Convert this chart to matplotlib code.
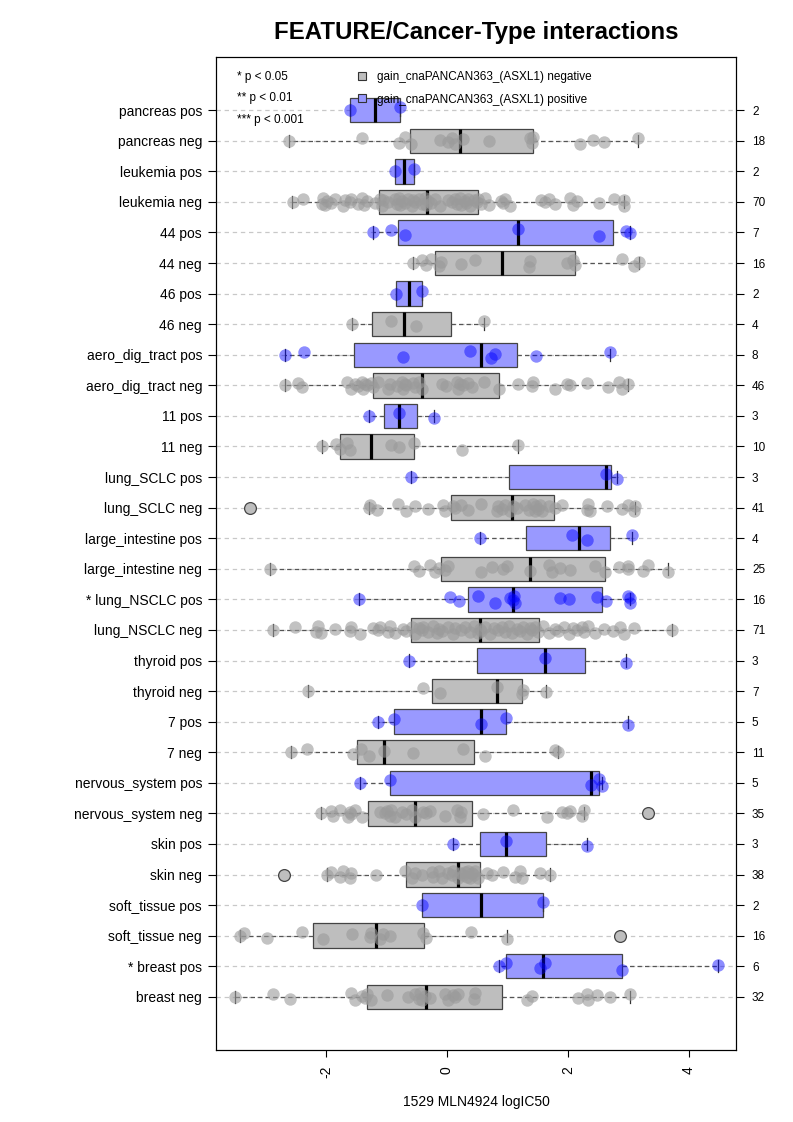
import matplotlib
matplotlib.use("Agg")
import matplotlib.pyplot as plt
from matplotlib.lines import Line2D

plt.rcParams['font.family'] = ['Liberation Sans', 'DejaVu Sans']
plt.rcParams['axes.unicode_minus'] = False

# row labels, top of the plot first
labels = ["pancreas pos", "pancreas neg", "leukemia pos", "leukemia neg",
          "44 pos", "44 neg", "46 pos", "46 neg",
          "aero_dig_tract pos", "aero_dig_tract neg", "11 pos", "11 neg",
          "lung_SCLC pos", "lung_SCLC neg", "large_intestine pos", "large_intestine neg",
          "* lung_NSCLC pos", "lung_NSCLC neg", "thyroid pos", "thyroid neg",
          "7 pos", "7 neg", "nervous_system pos", "nervous_system neg",
          "skin pos", "skin neg", "soft_tissue pos", "soft_tissue neg",
          "* breast pos", "breast neg"]
counts = [2, 18, 2, 70, 7, 16, 2, 4, 8, 46, 3, 10, 3, 41, 4, 25,
          16, 71, 3, 7, 5, 11, 5, 35, 3, 38, 2, 16, 6, 32]

# box stats
q1  = [-1.61, -0.61, -0.86, -1.12, -0.81, -0.19, -0.85, -1.24, -1.54, -1.23,
       -1.04, -1.77, 1.02, 0.07, 1.30, -0.10, 0.35, -0.60, 0.50, -0.25,
       -0.88, -1.49, -0.95, -1.31, 0.54, -0.68, -0.42, -2.22, 0.98, -1.32]
med = [-1.19, 0.215, -0.71, -0.33, 1.17, 0.91, -0.63, -0.71, 0.56, -0.42,
       -0.79, -1.26, 2.63, 1.07, 2.19, 1.37, 1.10, 0.55, 1.62, 0.83,
       0.57, -1.04, 2.38, -0.53, 0.98, 0.18, 0.57, -1.18, 1.58, -0.34]
q3  = [-0.77, 1.42, -0.55, 0.51, 2.74, 2.12, -0.42, 0.06, 1.15, 0.86,
       -0.50, -0.55, 2.72, 1.77, 2.69, 2.62, 2.56, 1.53, 2.29, 1.24,
       0.97, 0.45, 2.51, 0.42, 1.64, 0.54, 1.58, -0.38, 2.90, 0.91]
wlo = [-1.61, -2.62, -0.86, -2.56, -1.22, -0.57, -0.85, -1.57, -2.68, -2.68,
       -1.29, -2.06, -0.60, -1.29, 0.54, -2.92, -1.46, -2.88, -0.62, -2.30,
       -1.14, -2.58, -1.44, -2.08, 0.10, -1.99, -0.42, -3.43, 0.86, -3.50]
whi = [-0.77, 3.16, -0.55, 2.93, 3.02, 3.17, -0.42, 0.62, 2.69, 3.00,
       -0.22, 1.17, 2.81, 3.11, 3.06, 3.65, 3.02, 3.72, 2.96, 1.64,
       3.00, 1.83, 2.56, 2.27, 2.31, 1.71, 1.58, 0.99, 4.48, 3.03]
outlier_rows = [13, 23, 25, 27]
outlier_vals = [-3.26, 3.32, -2.70, 2.86]

# individual cell lines (logIC50) per row
pancreas_pos = [-1.61, -0.77]
pancreas_neg = [-2.62, -1.41, -0.79, -0.70, -0.60, -0.12, 0.01, 0.09, 0.13, 0.27,
                0.70, 1.37, 1.40, 1.43, 2.20, 2.42, 2.59, 3.16]
leukemia_pos = [-0.86, -0.55]
leukemia_neg = [-2.55, -2.38, -2.07, -2.05, -2.02, -1.99, -1.91, -1.85, -1.72, -1.69,
                -1.61, -1.58, -1.47, -1.41, -1.38, -1.33, -1.19, -1.11, -1.08, -1.05,
                -0.97, -0.86, -0.83, -0.80, -0.78, -0.75, -0.70, -0.64, -0.58, -0.56,
                -0.53, -0.47, -0.42, -0.36, -0.34, -0.32, -0.26, -0.20, -0.12, 0.02,
                0.08, 0.13, 0.16, 0.21, 0.24, 0.29, 0.32, 0.35, 0.38, 0.44,
                0.49, 0.52, 0.57, 0.63, 0.70, 0.90, 0.93, 0.96, 1.04, 1.55,
                1.62, 1.68, 1.79, 2.04, 2.09, 2.15, 2.51, 2.76, 2.92, 2.93]
t44_pos = [-1.22, -0.92, -0.70, 1.17, 2.51, 2.96, 3.02]
t44_neg = [-0.57, -0.42, -0.34, -0.26, -0.14, -0.10, 0.24, 0.46, 1.35, 1.37,
           1.98, 2.09, 2.12, 2.90, 3.09, 3.17]
t46_pos = [-0.85, -0.42]
t46_neg = [-1.57, -0.92, -0.51, 0.62]
aero_pos = [-2.68, -2.37, -0.72, 0.38, 0.73, 0.80, 1.48, 2.69]
aero_neg = [-2.68, -2.46, -2.40, -1.66, -1.58, -1.52, -1.47, -1.41, -1.39, -1.36,
            -1.33, -1.25, -1.22, -1.14, -0.97, -0.94, -0.83, -0.75, -0.72, -0.70,
            -0.67, -0.56, -0.53, -0.46, -0.42, -0.09, -0.01, 0.16, 0.19, 0.22,
            0.27, 0.35, 0.41, 0.62, 0.86, 1.18, 1.40, 1.43, 1.78, 1.98,
            2.04, 2.31, 2.67, 2.84, 2.89, 3.00]
t11_pos = [-1.29, -0.79, -0.22]
t11_neg = [-2.06, -1.83, -1.77, -1.66, -1.61, -0.93, -0.79, -0.55, 0.25, 1.17]
sclc_pos = [-0.60, 2.63, 2.81]
sclc_neg = [-1.29, -1.27, -1.16, -0.81, -0.68, -0.53, -0.31, -0.06, -0.03, 0.10,
            0.13, 0.24, 0.35, 0.56, 0.82, 0.85, 0.91, 0.96, 1.04, 1.10,
            1.15, 1.29, 1.35, 1.43, 1.46, 1.48, 1.51, 1.54, 1.57, 1.68,
            1.79, 1.90, 2.31, 2.34, 2.37, 2.64, 2.90, 3.00, 3.09, 3.11]
largeint_pos = [0.54, 2.06, 2.31, 3.06]
largeint_neg = [-2.92, -0.54, -0.46, -0.28, -0.19, -0.13, -0.03, 0.02, 0.57, 0.74,
                0.92, 1.00, 1.37, 1.68, 1.73, 1.87, 2.04, 2.45, 2.62, 2.84,
                2.99, 3.00, 3.25, 3.33, 3.65]
nsclc_pos = [-1.46, 0.05, 0.20, 0.51, 0.79, 1.04, 1.09, 1.11, 1.13, 1.87,
             2.02, 2.48, 2.63, 2.99, 3.02, 3.03]
nsclc_neg = [-2.88, -2.52, -2.16, -2.13, -2.08, -1.85, -1.61, -1.58, -1.44, -1.22,
             -1.14, -1.11, -0.97, -0.94, -0.86, -0.72, -0.67, -0.58, -0.53, -0.47,
             -0.42, -0.39, -0.31, -0.23, -0.17, -0.14, -0.09, 0.02, 0.10, 0.13,
             0.24, 0.30, 0.38, 0.44, 0.52, 0.55, 0.57, 0.63, 0.71, 0.77,
             0.85, 0.91, 0.96, 1.02, 1.07, 1.15, 1.21, 1.26, 1.32, 1.37,
             1.40, 1.46, 1.51, 1.59, 1.68, 1.79, 1.84, 1.93, 2.01, 2.09,
             2.15, 2.23, 2.26, 2.34, 2.45, 2.59, 2.75, 2.86, 2.92, 3.09, 3.72]
thyroid_pos = [-0.62, 1.62, 2.96]
thyroid_neg = [-2.30, -0.39, -0.12, 0.83, 1.24, 1.26, 1.64]
t7_pos = [-1.14, -0.88, 0.57, 0.97, 3.00]
t7_neg = [-2.58, -2.31, -1.55, -1.43, -1.29, -1.04, -0.57, 0.27, 0.63, 1.79, 1.83]
nervous_pos = [-1.44, -0.95, 2.38, 2.51, 2.56]
nervous_neg = [-2.08, -1.91, -1.88, -1.77, -1.63, -1.61, -1.58, -1.52, -1.41, -1.11,
               -1.03, -1.00, -0.94, -0.92, -0.86, -0.75, -0.67, -0.58, -0.53, -0.39,
               -0.34, -0.28, -0.03, 0.16, 0.22, 0.24, 0.60, 1.09, 1.65, 1.90,
               1.98, 2.04, 2.23, 2.27]
skin_pos = [0.10, 0.98, 2.31]
skin_neg = [-1.99, -1.92, -1.77, -1.72, -1.61, -1.58, -1.18, -0.70, -0.58, -0.53,
            -0.42, -0.25, -0.23, -0.14, -0.09, 0.02, 0.08, 0.10, 0.19, 0.22,
            0.27, 0.30, 0.33, 0.35, 0.38, 0.41, 0.44, 0.46, 0.52, 0.66,
            0.74, 0.92, 1.13, 1.21, 1.24, 1.54, 1.71]
soft_pos = [-0.42, 1.58]
soft_neg = [-3.43, -3.36, -2.97, -2.40, -2.05, -1.57, -1.27, -1.25, -1.11, -1.05,
            -0.94, -0.39, -0.35, 0.40, 0.99]
breast_pos = [0.86, 0.98, 1.54, 1.62, 2.90, 4.48]
breast_neg = [-3.50, -2.88, -2.60, -1.58, -1.52, -1.41, -1.36, -1.33, -1.25, -1.00,
              -0.64, -0.53, -0.47, -0.45, -0.42, -0.36, -0.28, -0.03, 0.02, 0.10,
              0.13, 0.19, 0.44, 0.46, 1.32, 1.40, 2.17, 2.31, 2.34, 2.48, 2.70, 3.03]

rows = [pancreas_pos, pancreas_neg, leukemia_pos, leukemia_neg, t44_pos, t44_neg,
        t46_pos, t46_neg, aero_pos, aero_neg, t11_pos, t11_neg, sclc_pos, sclc_neg,
        largeint_pos, largeint_neg, nsclc_pos, nsclc_neg, thyroid_pos, thyroid_neg,
        t7_pos, t7_neg, nervous_pos, nervous_neg, skin_pos, skin_neg,
        soft_pos, soft_neg, breast_pos, breast_neg]

gray_box = '#BEBEBE'
blue_box = '#9999FF'
jit = [0.0, 0.09, -0.07, 0.12, -0.11, 0.04, -0.03, 0.1, -0.12, 0.06]

n = len(labels)
pos = [n - i for i in range(n)]

fig = plt.figure(figsize=(7.93, 11.22), dpi=100)
ax = fig.add_axes([216 / 793, 72 / 1122, 520 / 793, 993 / 1122])

# dashed guide lines
for p in pos:
    ax.axhline(p, color='#C8C8C8', lw=0.9, ls=(0, (3.5, 3)), zorder=0)

stats = []
for i in range(n):
    fl = [v for r, v in zip(outlier_rows, outlier_vals) if r == i]
    stats.append(dict(med=med[i], q1=q1[i], q3=q3[i], whislo=wlo[i], whishi=whi[i],
                      fliers=fl, label=labels[i]))

bp = ax.bxp(stats, positions=pos, widths=0.8, capwidths=0.4, orientation='horizontal',
            patch_artist=True, showfliers=True,
            boxprops=dict(edgecolor='#444444', linewidth=0.9),
            whiskerprops=dict(color='#555555', linewidth=0.9, linestyle=(0, (3.5, 2.5))),
            capprops=dict(color='#333333', linewidth=0.9),
            medianprops=dict(color='black', linewidth=2.3),
            flierprops=dict(marker='o', markersize=8.5, markerfacecolor='#BEBEBE',
                            markeredgecolor='#444444', markeredgewidth=0.9))
for i, b in enumerate(bp['boxes']):
    b.set_facecolor(blue_box if labels[i].endswith('pos') else gray_box)

# jittered points
for i, vals in enumerate(rows):
    is_pos = labels[i].endswith('pos')
    ys = [pos[i] + jit[k % len(jit)] for k in range(len(vals))]
    ax.scatter(vals, ys, s=80, color='#0000FF' if is_pos else '#9A9A9A',
               alpha=0.45 if is_pos else 0.6, linewidths=0, zorder=3)

ax.set_xlim(-3.82, 4.78)
ax.set_ylim(-0.74, 31.74)
ax.set_xticks([-2, 0, 2, 4])
ax.set_xticklabels(['-2', '0', '2', '4'])
ax.set_yticks(pos)
ax.set_yticklabels(labels)
ax.tick_params(axis='y', length=5.5, width=0.8, pad=4.5, labelsize=10)
ax.tick_params(axis='x', length=5, width=0.8, pad=6.5, labelsize=10, labelrotation=90)
ax.set_xlabel('1529 MLN4924 logIC50', fontsize=10, labelpad=12)
ax.set_title('FEATURE/Cancer-Type interactions', fontsize=17.3, fontweight='bold', pad=13)

ax2 = ax.twinx()
ax2.set_ylim(ax.get_ylim())
ax2.set_yticks(pos)
ax2.set_yticklabels([str(c) for c in counts])
ax2.tick_params(axis='y', length=5.5, width=0.8, pad=6, labelsize=8.5)

# legends
sig = [Line2D([], [], linestyle='none') for _ in range(3)]
ax.legend(sig, ['* p < 0.05', '** p < 0.01', '*** p < 0.001'],
          loc='upper left', bbox_to_anchor=(237 / 793, 1 - 71 / 1122),
          bbox_transform=fig.transFigure, frameon=False, fontsize=8.5,
          handlelength=0, handletextpad=0, borderpad=0, borderaxespad=0,
          labelspacing=0.8)
marks = [Line2D([], [], linestyle='none', marker='s', markersize=6, markerfacecolor=c,
                markeredgecolor='#333333', markeredgewidth=0.8) for c in [gray_box, blue_box]]
leg2 = ax2.legend(marks, ['gain_cnaPANCAN363_(ASXL1) negative',
                          'gain_cnaPANCAN363_(ASXL1) positive'],
                  loc='upper left', bbox_to_anchor=(357 / 793, 1 - 71 / 1122),
                  bbox_transform=fig.transFigure, frameon=False, fontsize=8.5,
                  handlelength=0.8, handletextpad=0.9, borderpad=0, borderaxespad=0,
                  labelspacing=0.9)
leg2.set_zorder(10)

fig.savefig('out.png', dpi=100)
